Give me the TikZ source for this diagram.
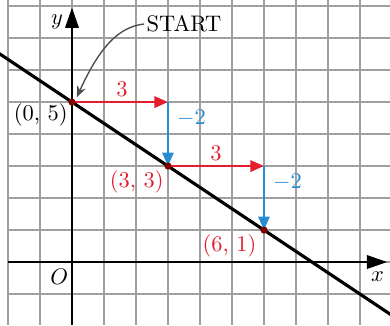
\documentclass[tikz,border=0pt]{standalone}
\usepackage{tikz}
\usetikzlibrary{arrows.meta}
\definecolor{stepred}{RGB}{228,30,45}
\definecolor{stepblue}{RGB}{40,140,210}
\definecolor{gridgray}{RGB}{160,160,160}
\tikzset{
	runarrow/.style={stepred, line width=1pt, -{Triangle[length=6pt,width=5pt]}},
	risearrow/.style={stepblue, line width=1pt, -{Triangle[length=6pt,width=5pt]}},
	steplabel/.style={stepred, inner sep=1pt},
}
\begin{document}
\begin{tikzpicture}[x=0.5cm, y=0.5cm]
	\useasboundingbox (-2.25,-1.97) rectangle (9.94,8.19);
	\newcommand {\xr} {9.94}
	\newcommand {\yt} {8.19}
	\fill[white] (-2.25,-1.97) rectangle (\xr,\yt);
	% grid
	\clip (-2.25,-1.97) rectangle (\xr,\yt);
	\draw[gridgray, line width=0.6pt, step=0.5cm] (-2,-1.97) grid (\xr,\yt);
	% axes
	\draw[line width=0.9pt, -{Triangle[length=9pt,width=6pt]}] (-2,0) -- (9.85,0);
	\draw[line width=0.9pt, -{Triangle[length=9pt,width=6pt]}] (0,-1.97) -- (0,7.95);
	\node (ylab) at (-0.47,7.5) {$y$};
	\node (xlab) at (9.55,-0.47) {$x$};
	\node (orig) at (-0.4,-0.47) {$O$};
	% the line y = 5 - 2x/3
	\draw[line width=1.4pt] (-2.4,6.6) -- (10.2,-1.8);
	\coordinate (p1) at (0,5); \coordinate (p2) at (3,3); \coordinate (p3) at (6,1);
	\coordinate (q1) at (3,5); \coordinate (q2) at (6,3);
	\draw[runarrow] (p1) -- (q1);
	\draw[risearrow] (q1) -- (p2);
	\draw[runarrow] (p2) -- (q2);
	\draw[risearrow] (q2) -- (p3);
	\foreach \x in {p1,p2,p3}
	{
		\fill[red!50!black] (\x) circle [radius=1.6pt];
	}
	\node[steplabel] (run1) at (1.56,5.4) {3};
	\node[steplabel] (run2) at (4.5,3.4) {3};
	\node[stepblue, anchor=west, inner sep=1pt] (rise1) at (3.2,4.5) {$-2$};
	\node[stepblue, anchor=west, inner sep=1pt] (rise2) at (6.2,2.5) {$-2$};
	\node[anchor=east, inner sep=1pt] (lab1) at (-0.05,4.6) {(0, 5)};
	\node[steplabel, anchor=north east] (lab2) at (2.95,2.95) {(3, 3)};
	\node[steplabel, anchor=north east] (lab3) at (5.85,0.95) {(6, 1)};
	% start pointer
	\node[anchor=west, inner sep=1pt] (start) at (2.25,7.44) {START};
	\draw[black!70, line width=0.6pt, -{Stealth[length=5pt,width=4pt]}]
		(start.west) .. controls (1.5,7.35) and (0.9,6.8) .. (0.15,5.15);
\end{tikzpicture}
\end{document}
